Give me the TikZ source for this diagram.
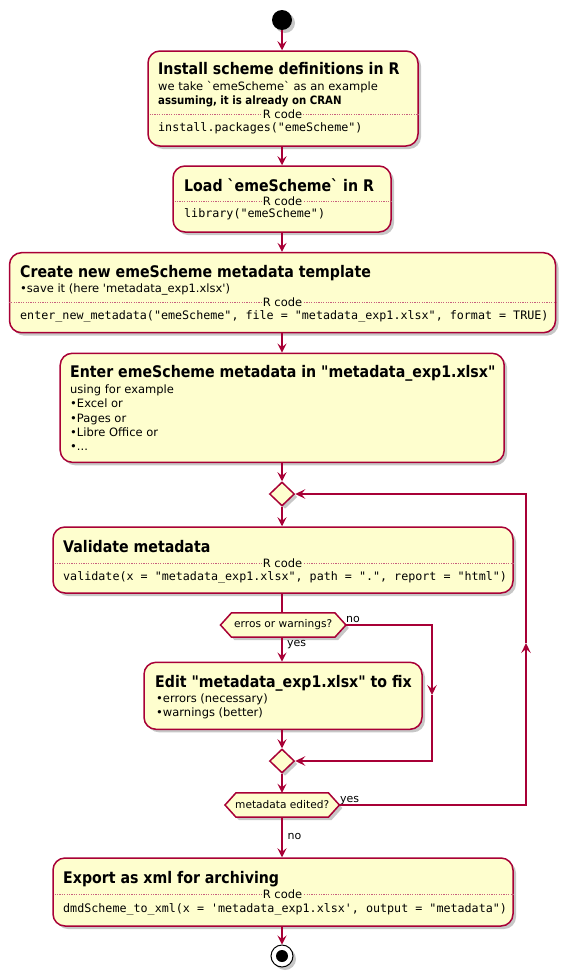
\documentclass[tikz,border=0pt]{standalone}
\usepackage{fontspec}
\setmainfont{DejaVu Sans}[Ligatures=TeXOff]
\setmonofont{DejaVu Sans Mono}[Ligatures=TeXOff]
\newfontfamily\titlefont{DejaVu Sans}[FakeStretch=0.885,Ligatures=TeXOff]
\usetikzlibrary{arrows.meta,shadows,shapes.geometric}
\pgfdeclarelayer{bg}
\pgfsetlayers{bg,main}
\definecolor{umlred}{HTML}{A80036}
\definecolor{umlfill}{HTML}{FEFECE}
\definecolor{sepred}{HTML}{C8607E}
\tikzset{
  shad/.style={drop shadow={shadow xshift=3pt,shadow yshift=-3pt,fill=black,opacity=0.22}},
  box/.style={draw=umlred,fill=umlfill,line width=1.5pt,rounded corners=12pt,inner sep=0,shad},
  merge/.style={diamond,draw=umlred,fill=umlfill,line width=1.5pt,minimum width=25pt,minimum height=24pt,inner sep=0,shad},
  hexlbl/.style={inner sep=0,minimum height=24pt,font=\fontsize{10.6}{12}\selectfont},
  hexdraw/.style={draw=umlred,fill=umlfill,line width=1.5pt,shad},
  txt/.style={anchor=base west,inner sep=0,font=\fontsize{11.5}{13}\selectfont},
  btxt/.style={anchor=base west,inner sep=0,font=\titlefont\bfseries\fontsize{11.5}{13}\selectfont},
  ttl/.style={anchor=base west,inner sep=0,font=\titlefont\bfseries\fontsize{16}{18}\selectfont},
  code/.style={anchor=base west,inner sep=0,font=\ttfamily\fontsize{11.7}{14}\selectfont},
  sepline/.style={draw=sepred,line width=0.6pt,dash pattern=on 1.2pt off 1.2pt},
  seplbl/.style={fill=umlfill,inner sep=1pt,font=\fontsize{11.5}{13}\selectfont},
  small/.style={anchor=base west,inner sep=0,font=\fontsize{11}{13}\selectfont},
  line/.style={draw=umlred,line width=1.5pt},
  arr/.style={draw=umlred,line width=1.5pt,-{Stealth[length=9pt,width=9pt,inset=3.5pt]}},
  barr/.style={draw=umlred,line width=1.2pt,-{Stealth[length=10pt,width=9.5pt,inset=4pt]}},
}
\begin{document}
\begin{tikzpicture}[x=1pt,y=-1pt]
\useasboundingbox (0,0) rectangle (566,977);

% start
\node[circle,fill=black,minimum size=20pt,inner sep=0,shad] (start) at (282,20) {};

% box 1
\node[box,minimum width=270pt,minimum height=95pt] (b1) at (283,98.5) {};
\node[ttl] (b1t) at (158,74) {Install scheme definitions in R};
\node[txt] (b1a) at (158,90) {we take `emeScheme` as an example};
\node[btxt] (b1b) at (158,104) {assuming, it is already on CRAN};
\draw[sepline] (b1.west |- 0,114) -- (b1.east |- 0,114);
\node[seplbl] (b1s) at (282.5,114) {R code};
\node[code] (b1c) at (158,131) {install.packages("emeScheme")};

% box 2
\node[box,minimum width=218pt,minimum height=66pt] (b2) at (282,199) {};
\node[ttl] (b2t) at (184,191) {Load `emeScheme` in R};
\draw[sepline] (b2.west |- 0,201) -- (b2.east |- 0,201);
\node[seplbl] (b2s) at (282.5,201) {R code};
\node[code] (b2c) at (184,217) {library("emeScheme")};

% box 3
\node[box,minimum width=546pt,minimum height=80pt] (b3) at (282.5,292.7) {};
\node[ttl] (b3t) at (20,277) {Create new emeScheme metadata template};
\node[txt] (b3a) at (20,292) {•save it (here 'metadata\_exp1.xlsx')};
\draw[sepline] (b3.west |- 0,302) -- (b3.east |- 0,302);
\node[seplbl] (b3s) at (282.5,302) {R code};
\node[code] (b3c) at (20,319) {enter\_new\_metadata("emeScheme", file = "metadata\_exp1.xlsx", format = TRUE)};

% box 4
\node[box,minimum width=444pt,minimum height=109pt] (b4) at (282.2,407.8) {};
\node[ttl] (b4t) at (70,377) {Enter emeScheme metadata in "metadata\_exp1.xlsx"};
\node[txt] (b4a) at (70,393) {using for example};
\node[txt] (b4b) at (70,407) {•Excel or};
\node[txt] (b4c) at (70,422) {•Pages or};
\node[txt] (b4d) at (70,436) {•Libre Office or};
\node[txt] (b4e) at (70,450) {•...};

% merge 1
\node[merge] (m1) at (282,494) {};

% box 5
\node[box,minimum width=460pt,minimum height=66pt] (b5) at (283,560) {};
\node[ttl] (b5t) at (63,552) {Validate metadata};
\draw[sepline] (b5.west |- 0,563) -- (b5.east |- 0,563);
\node[seplbl] (b5s) at (282.5,563) {R code};
\node[code] (b5c) at (63,580) {validate(x = "metadata\_exp1.xlsx", path = ".", report = "html")};

% decision 1
\node[hexlbl,minimum width=125pt] (q1) at (283.2,625) {erros or warnings?};
\begin{pgfonlayer}{bg}
\draw[hexdraw] ([xshift=11pt]q1.north west) -- ([xshift=-11pt]q1.north east) -- (q1.east)
  -- ([xshift=-11pt]q1.south east) -- ([xshift=11pt]q1.south west) -- (q1.west) -- cycle;
\end{pgfonlayer}
\node[small] (q1no) at (346,622) {no};
\node[small] (q1yes) at (287,646.5) {yes};

% box 6
\node[box,minimum width=278pt,minimum height=67pt] (b6) at (283,695.8) {};
\node[ttl] (b6t) at (155,687.5) {Edit "metadata\_exp1.xlsx" to fix};
\node[txt] (b6a) at (156,702.5) {•errors (necessary)};
\node[txt] (b6b) at (156,716) {•warnings (better)};

% merge 2
\node[merge] (m2) at (282,761) {};

% decision 2
\node[hexlbl,minimum width=114pt] (q2) at (282.2,805) {metadata edited?};
\begin{pgfonlayer}{bg}
\draw[hexdraw] ([xshift=11pt]q2.north west) -- ([xshift=-11pt]q2.north east) -- (q2.east)
  -- ([xshift=-11pt]q2.south east) -- ([xshift=11pt]q2.south west) -- (q2.west) -- cycle;
\end{pgfonlayer}
\node[small] (q2yes) at (340,802.5) {yes};
\node[small] (q2no) at (287.5,839) {no};

% box 7
\node[box,minimum width=460pt,minimum height=68pt] (b7) at (283,892) {};
\node[ttl] (b7t) at (63,883) {Export as xml for archiving};
\draw[sepline] (b7.west |- 0,894) -- (b7.east |- 0,894);
\node[seplbl] (b7s) at (282.5,894) {R code};
\node[code] (b7c) at (63,912) {dmdScheme\_to\_xml(x = 'metadata\_exp1.xlsx', output = "metadata")};

% end
\node[circle,draw=black,line width=1pt,fill=white,minimum size=22pt,inner sep=0,shad] (end) at (282,956) {};
\node[circle,fill=black,minimum size=12pt,inner sep=0] (endc) at (end) {};

% connectors
\draw[arr] (start) -- (start |- b1.north);
\draw[arr] (start |- b1.south) -- (start |- b2.north);
\draw[arr] (start |- b2.south) -- (start |- b3.north);
\draw[arr] (start |- b3.south) -- (start |- b4.north);
\draw[arr] (start |- b4.south) -- (m1);
\draw[arr] (m1) -- (start |- b5.north);
\draw[line] (start |- b5.south) -- (start |- q1.north);
\draw[arr] (start |- q1.south) -- (start |- b6.north);
\draw[arr] (start |- b6.south) -- (m2);
\draw[arr] (m2) -- (start |- q2.north);
\draw[arr] (start |- q2.south) -- (start |- b7.north);
\draw[arr] (start |- b7.south) -- (end);

\coordinate (nmid) at (432,695);
\draw[barr] (q1.east) -- (q1.east -| nmid) -- (nmid);
\draw[barr] (nmid) -- (nmid |- m2.east) -- (m2.east);

\coordinate (lmid) at (526,643);
\draw[barr] (q2.east) -- (q2.east -| lmid) -- (lmid);
\draw[barr] (lmid) -- (lmid |- m1.east) -- (m1.east);
\end{tikzpicture}
\end{document}
